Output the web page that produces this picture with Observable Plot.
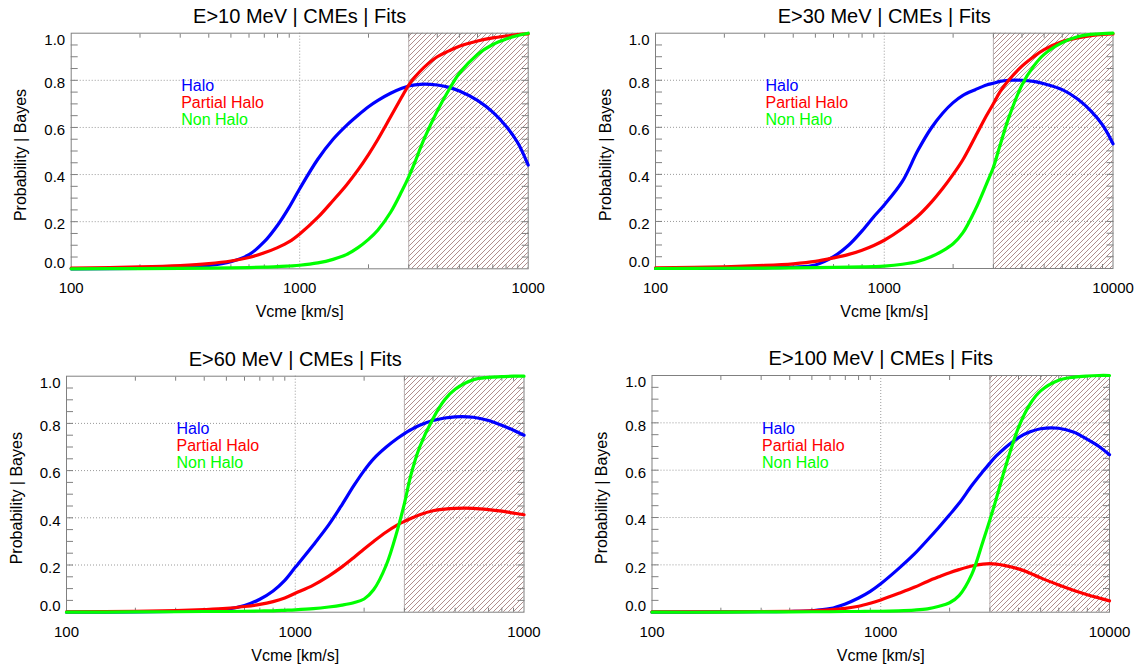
<!DOCTYPE html>
<html><head><meta charset="utf-8">
<script src="https://cdn.jsdelivr.net/npm/d3@7"></script>
<script src="https://cdn.jsdelivr.net/npm/@observablehq/plot@0.6"></script>
<style>
html,body{margin:0;padding:0;background:#fff;}
#grid{display:grid;grid-template-columns:573px 573px;grid-template-rows:335px 336px;width:1146px;height:671px;}
#grid svg{display:block;}
</style></head><body><div id="grid"></div>
<script>
// ---- data ----
const panelTitles = ["E>10 MeV | CMEs | Fits", "E>30 MeV | CMEs | Fits", "E>60 MeV | CMEs | Fits", "E>100 MeV | CMEs | Fits"];
const seriesNames = ["Halo", "Partial Halo", "Non Halo"];
const vcmeGrid = [100,200,300,400,500,600,700,800,900,1000,1200,1400,1600,1800,2000,2200,2500,2800,3000,3200,3500,4000,4500,5000,6000,7000,8000,9000,10000];

const halo10     = [0.000,0.002,0.006,0.014,0.030,0.060,0.115,0.185,0.262,0.340,0.465,0.550,0.608,0.652,0.688,0.715,0.745,0.766,0.776,0.781,0.784,0.780,0.770,0.755,0.715,0.665,0.605,0.535,0.440];
const partial10  = [0.003,0.008,0.014,0.022,0.033,0.048,0.068,0.090,0.115,0.148,0.218,0.290,0.355,0.420,0.485,0.550,0.645,0.730,0.780,0.815,0.855,0.900,0.925,0.945,0.967,0.980,0.988,0.994,0.997];
const nonHalo10  = [0.000,0.001,0.002,0.003,0.004,0.005,0.007,0.009,0.012,0.015,0.025,0.040,0.060,0.090,0.125,0.165,0.240,0.330,0.390,0.455,0.550,0.670,0.760,0.830,0.910,0.952,0.975,0.990,1.000];

const halo30     = [0.000,0.001,0.003,0.006,0.015,0.050,0.100,0.160,0.220,0.270,0.370,0.500,0.595,0.660,0.705,0.735,0.760,0.780,0.787,0.795,0.800,0.800,0.795,0.785,0.760,0.720,0.670,0.610,0.530];
const partial30  = [0.003,0.007,0.013,0.020,0.030,0.045,0.060,0.078,0.098,0.120,0.170,0.222,0.280,0.340,0.400,0.460,0.560,0.650,0.700,0.750,0.800,0.860,0.900,0.930,0.965,0.980,0.990,0.995,0.997];
const nonHalo30  = [0.000,0.001,0.002,0.003,0.004,0.005,0.006,0.007,0.008,0.010,0.018,0.030,0.050,0.075,0.105,0.150,0.250,0.360,0.430,0.520,0.640,0.780,0.860,0.910,0.960,0.985,0.995,0.998,1.000];

const halo60     = [0.000,0.001,0.003,0.006,0.012,0.028,0.055,0.090,0.135,0.190,0.285,0.370,0.455,0.535,0.600,0.650,0.700,0.737,0.757,0.773,0.792,0.812,0.823,0.828,0.826,0.812,0.792,0.771,0.750];
const partial60  = [0.002,0.004,0.007,0.011,0.016,0.024,0.033,0.045,0.060,0.080,0.115,0.153,0.192,0.231,0.268,0.300,0.340,0.370,0.385,0.397,0.413,0.430,0.437,0.440,0.440,0.435,0.428,0.420,0.413];
const nonHalo60  = [0.000,0.001,0.002,0.003,0.003,0.004,0.005,0.006,0.008,0.010,0.015,0.022,0.030,0.040,0.056,0.095,0.200,0.350,0.460,0.580,0.700,0.820,0.900,0.945,0.985,0.995,0.998,1.000,1.000];

const halo100    = [0.000,0.001,0.002,0.003,0.006,0.015,0.035,0.060,0.088,0.120,0.185,0.245,0.305,0.360,0.412,0.460,0.535,0.595,0.630,0.660,0.695,0.738,0.762,0.775,0.777,0.760,0.730,0.700,0.665];
const partial100 = [0.002,0.002,0.003,0.004,0.006,0.010,0.016,0.025,0.038,0.052,0.080,0.105,0.130,0.150,0.167,0.180,0.195,0.203,0.205,0.203,0.197,0.183,0.165,0.145,0.115,0.092,0.074,0.060,0.048];
const nonHalo100 = [0.000,0.000,0.001,0.001,0.002,0.002,0.003,0.003,0.004,0.004,0.006,0.009,0.014,0.025,0.040,0.070,0.160,0.300,0.390,0.480,0.610,0.780,0.880,0.935,0.980,0.993,0.998,1.000,1.000];

const xTickValues = [100, 1000, 10000];
const xTickLabelsLeft = ["100", "1000", "1000"];
const xTickLabelsRight = ["100", "1000", "10000"];
const xMinorTicks = [200,300,400,500,600,700,800,900,2000,3000,4000,5000,6000,7000,8000,9000];
const yLabelMid = [0.2, 0.4, 0.6, 0.8];
const yMinorTicks = [0.05,0.1,0.15,0.2,0.25,0.3,0.35,0.4,0.45,0.5,0.55,0.6,0.65,0.7,0.75,0.8,0.85,0.9,0.95];
const xGridValues = [1000];
const hatchRange = [3000, 10000];
const probDomain = [0, 1];
const vDomain = [100, 10000];

// ---- styling / layout ----
const seriesColors = ["#0000ff", "#ff0000", "#00ff00"];
const panelSeries = [
  [halo10, partial10, nonHalo10],
  [halo30, partial30, nonHalo30],
  [halo60, partial60, nonHalo60],
  [halo100, partial100, nonHalo100]
];
const panelXLabels = [xTickLabelsLeft, xTickLabelsRight, xTickLabelsLeft, xTickLabelsRight];
const layout = [
  {h: 335, ml: 70.7, mr: 45.3, mt: 32.7, mb: 66.7},
  {h: 335, ml: 82.0, mr: 33.5, mt: 32.7, mb: 67.0},
  {h: 336, ml: 66.0, mr: 49.5, mt: 40.7, mb: 59.3},
  {h: 336, ml: 78.5, mr: 37.0, mt: 40.0, mb: 59.3}
];
const FONT = "'Liberation Sans', Arial, Helvetica, sans-serif";
const AXIS_GRAY = "#808080";

function makePanel(i) {
  const L = layout[i];
  const labels = panelXLabels[i];
  const fmtX = d => labels[xTickValues.indexOf(d)];
  const fmtY = d3.format(".1f");
  const lineMarks = seriesNames.map((name, k) => {
    const rows = vcmeGrid.map((v, j) => ({v, p: panelSeries[i][k][j]}));
    return Plot.line(rows, {x: "v", y: "p", stroke: seriesColors[k], strokeWidth: 3.2, curve: "catmull-rom"});
  });
  const legendMarks = seriesNames.map((name, k) =>
    Plot.text([name], {text: d => d, frameAnchor: "top-left", dx: 110, dy: 53 + 17 * k,
      textAnchor: "start", lineAnchor: "middle", fill: seriesColors[k], fontSize: 16}));
  const svg = Plot.plot({
    width: 573, height: L.h,
    marginLeft: L.ml, marginRight: L.mr, marginTop: L.mt, marginBottom: L.mb,
    x: {type: "log", domain: vDomain, axis: null, label: null},
    y: {domain: probDomain, axis: null, label: null},
    style: {fontFamily: FONT, background: "white", color: "black", overflow: "visible"},
    marks: [
      Plot.rect([hatchRange], {x1: d => d[0], x2: d => d[1], y1: probDomain[0], y2: probDomain[1], fill: `url(#hatch${i})`}),
      Plot.ruleX([hatchRange[0]], {stroke: "#b8b0b0", strokeWidth: 1}),
      Plot.gridY(yLabelMid, {stroke: "#9a9a9a", strokeOpacity: 1, strokeDasharray: "1,2"}),
      Plot.gridX(xGridValues, {stroke: "#9a9a9a", strokeOpacity: 1, strokeDasharray: "1,2"}),
      Plot.axisY(yMinorTicks, {anchor: "left", tickSize: -7, tickFormat: () => "", stroke: AXIS_GRAY, label: null}),
      Plot.axisY(yMinorTicks, {anchor: "right", tickSize: -7, tickFormat: () => "", stroke: AXIS_GRAY, label: null}),
      Plot.axisX(xMinorTicks, {anchor: "bottom", tickSize: -4, tickFormat: () => "", stroke: AXIS_GRAY, label: null}),
      Plot.axisX(xMinorTicks, {anchor: "top", tickSize: -4, tickFormat: () => "", stroke: AXIS_GRAY, label: null}),
      Plot.frame({stroke: AXIS_GRAY}),
      Plot.axisY(yLabelMid, {anchor: "left", tickSize: 0, tickPadding: 6, dy: 3, tickFormat: fmtY, fontSize: 15, fill: "black", label: null}),
      Plot.axisY([probDomain[0]], {anchor: "left", tickSize: 0, tickPadding: 6, dy: -6, tickFormat: fmtY, fontSize: 15, fill: "black", label: null}),
      Plot.axisY([probDomain[1]], {anchor: "left", tickSize: 0, tickPadding: 6, dy: 7, tickFormat: fmtY, fontSize: 15, fill: "black", label: null}),
      Plot.axisX(xTickValues, {anchor: "bottom", tickSize: 0, tickPadding: 14, tickFormat: fmtX, fontSize: 15, fill: "black", label: null}),
      ...lineMarks,
      ...legendMarks,
      Plot.text([panelTitles[i]], {text: d => d, frameAnchor: "top", dy: -17, lineAnchor: "middle", fontSize: 20, fill: "black"}),
      Plot.text(["Vcme [km/s]"], {text: d => d, frameAnchor: "bottom", dy: 43.4, lineAnchor: "middle", fontSize: 16, fill: "black"}),
      Plot.text(["Probability | Bayes"], {text: d => d, frameAnchor: "left", dx: -50, dy: 4, rotate: -90, lineAnchor: "middle", textAnchor: "middle", fontSize: 16, fill: "black"})
    ]
  });
  const ns = "http://www.w3.org/2000/svg";
  const defs = document.createElementNS(ns, "defs");
  const pat = document.createElementNS(ns, "pattern");
  pat.setAttribute("id", `hatch${i}`);
  pat.setAttribute("patternUnits", "userSpaceOnUse");
  pat.setAttribute("width", "5");
  pat.setAttribute("height", "5");
  const path = document.createElementNS(ns, "path");
  path.setAttribute("d", "M0,5 L5,0 M-1,1 L1,-1 M4,6 L6,4");
  path.setAttribute("stroke", "#9c7070");
  path.setAttribute("stroke-width", "0.8");
  path.setAttribute("fill", "none");
  pat.appendChild(path);
  defs.appendChild(pat);
  svg.insertBefore(defs, svg.firstChild);
  return svg;
}

const grid = document.getElementById("grid");
for (let i = 0; i < 4; i++) grid.appendChild(makePanel(i));
</script>
</body></html>
